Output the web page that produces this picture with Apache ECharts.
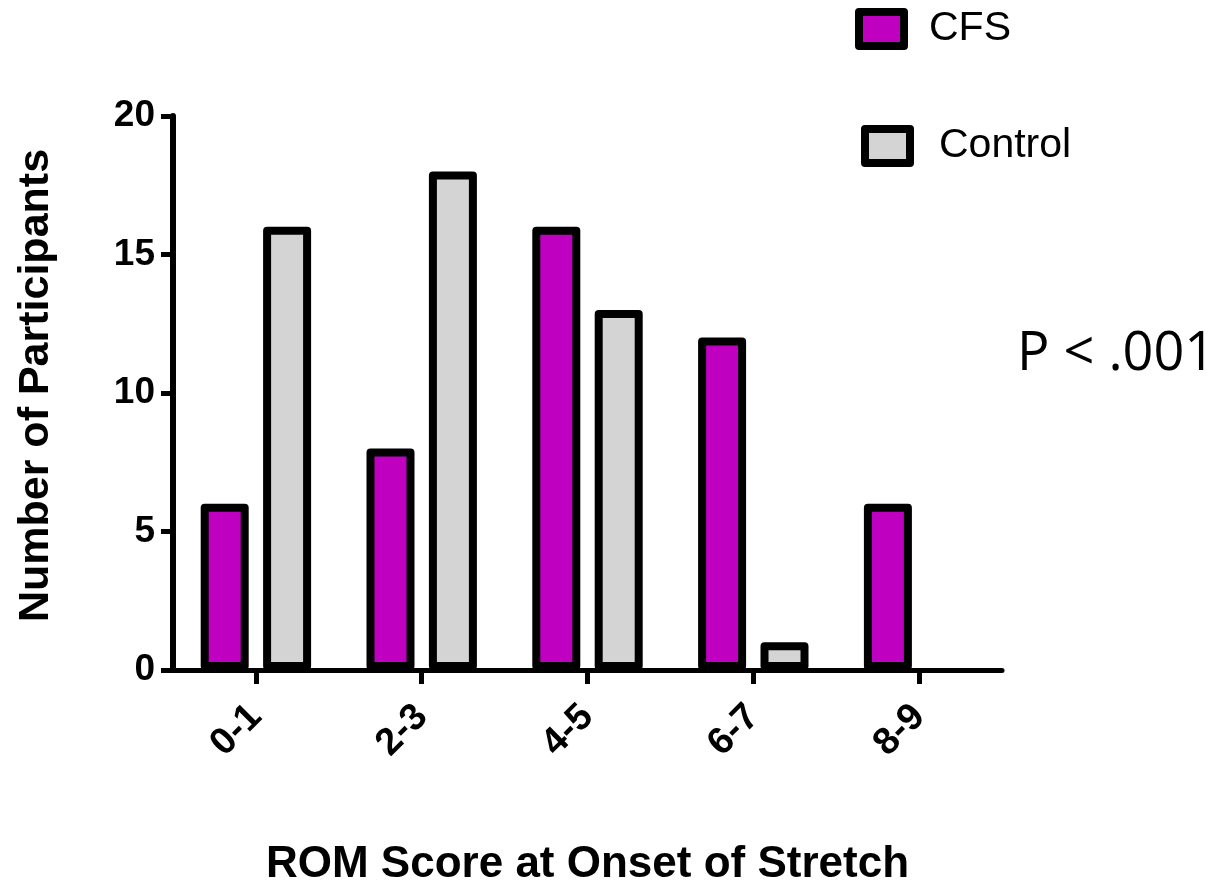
<!DOCTYPE html>
<html>
<head>
<meta charset="utf-8">
<script src="https://cdn.jsdelivr.net/npm/echarts@6/dist/echarts.min.js"></script>
<style>
  html, body { margin: 0; padding: 0; background: #ffffff; }
  #chart { width: 1220px; height: 887px; }
</style>
</head>
<body>
<div id="chart"></div>
<script>
// ROM score bins and participant counts per group
const categories = ['0-1', '2-3', '4-5', '6-7', '8-9'];
const cfsCounts = [6, 8, 16, 12, 6];
const controlCounts = [16, 18, 13, 1, 0];
const yMin = 0;
const yMax = 20;
const yStep = 5;

const AXIS_FONT = 'Liberation Sans, Arial, Helvetica, sans-serif';
const CFS_COLOR = '#c000c0';
const CONTROL_COLOR = '#d4d4d4';

// an empty bin gets no outlined stub on the baseline
function toBarData(values) {
  return values.map(v => v === 0 ? { value: v, itemStyle: { borderWidth: 0 } } : v);
}

const barStyle = (color) => ({
  color: color,
  borderColor: '#000000',
  borderWidth: 8,
  borderJoin: 'round'
});

const legendBase = {
  orient: 'vertical',
  padding: 0,
  itemWidth: 45,
  itemHeight: 34,
  icon: 'rect',
  selectedMode: false,
  itemStyle: { borderColor: '#000000', borderWidth: 8, borderJoin: 'round' },
  textStyle: { fontFamily: AXIS_FONT, fontSize: 41, color: '#000000' }
};

const chart = echarts.init(document.getElementById('chart'), null, { renderer: 'canvas' });

chart.setOption({
  animation: false,
  backgroundColor: '#ffffff',
  grid: {
    left: 173,
    right: 218,
    top: 116,
    bottom: 217,
    containLabel: false,
    outerBoundsMode: 'none'
  },
  legend: [
    Object.assign({}, legendBase, {
      data: ['CFS'],
      left: 855,
      top: 8,
      textStyle: Object.assign({}, legendBase.textStyle, { padding: [0, 0, 0, 20] })
    }),
    Object.assign({}, legendBase, {
      data: ['Control'],
      left: 861,
      top: 125,
      textStyle: Object.assign({}, legendBase.textStyle, { padding: [0, 0, 0, 24] })
    })
  ],
  graphic: [{
    type: 'text',
    left: 1017,
    top: 328,
    style: {
      text: 'P < .001',
      font: '54px "Open Sans", "Noto Sans", sans-serif',
      fill: '#000000'
    }
  }],
  xAxis: {
    type: 'category',
    data: categories,
    name: 'ROM Score at Onset of Stretch',
    nameLocation: 'middle',
    nameGap: 173,
    nameMoveOverlap: false,
    nameTextStyle: {
      fontFamily: AXIS_FONT,
      fontWeight: 'bold',
      fontSize: 44,
      color: '#000000'
    },
    axisLine: { show: true, lineStyle: { color: '#000000', width: 5 } },
    axisTick: { show: true, alignWithLabel: true, length: 14, lineStyle: { color: '#000000', width: 5 } },
    axisLabel: {
      rotate: 45,
      margin: 41,
      interval: 0,
      fontFamily: AXIS_FONT,
      fontWeight: 'bold',
      fontSize: 38,
      color: '#000000'
    },
    splitLine: { show: false }
  },
  yAxis: {
    type: 'value',
    min: yMin,
    max: yMax,
    interval: yStep,
    name: 'Number of Participants',
    nameLocation: 'middle',
    nameGap: 115,
    nameRotate: 90,
    nameMoveOverlap: false,
    nameTextStyle: {
      fontFamily: AXIS_FONT,
      fontWeight: 'bold',
      fontSize: 43,
      color: '#000000',
      padding: [0, 0, 0, 15]
    },
    axisLine: { show: true, lineStyle: { color: '#000000', width: 6 } },
    axisTick: { show: true, length: 12, lineStyle: { color: '#000000', width: 5 } },
    axisLabel: {
      margin: 18,
      fontFamily: AXIS_FONT,
      fontWeight: 'bold',
      fontSize: 37,
      color: '#000000'
    },
    splitLine: { show: false }
  },
  series: [
    {
      name: 'CFS',
      type: 'bar',
      data: toBarData(cfsCounts),
      barWidth: 48,
      barGap: '30%',
      itemStyle: barStyle(CFS_COLOR)
    },
    {
      name: 'Control',
      type: 'bar',
      data: toBarData(controlCounts),
      barWidth: 48,
      barGap: '30%',
      itemStyle: barStyle(CONTROL_COLOR)
    }
  ]
});
</script>
</body>
</html>
